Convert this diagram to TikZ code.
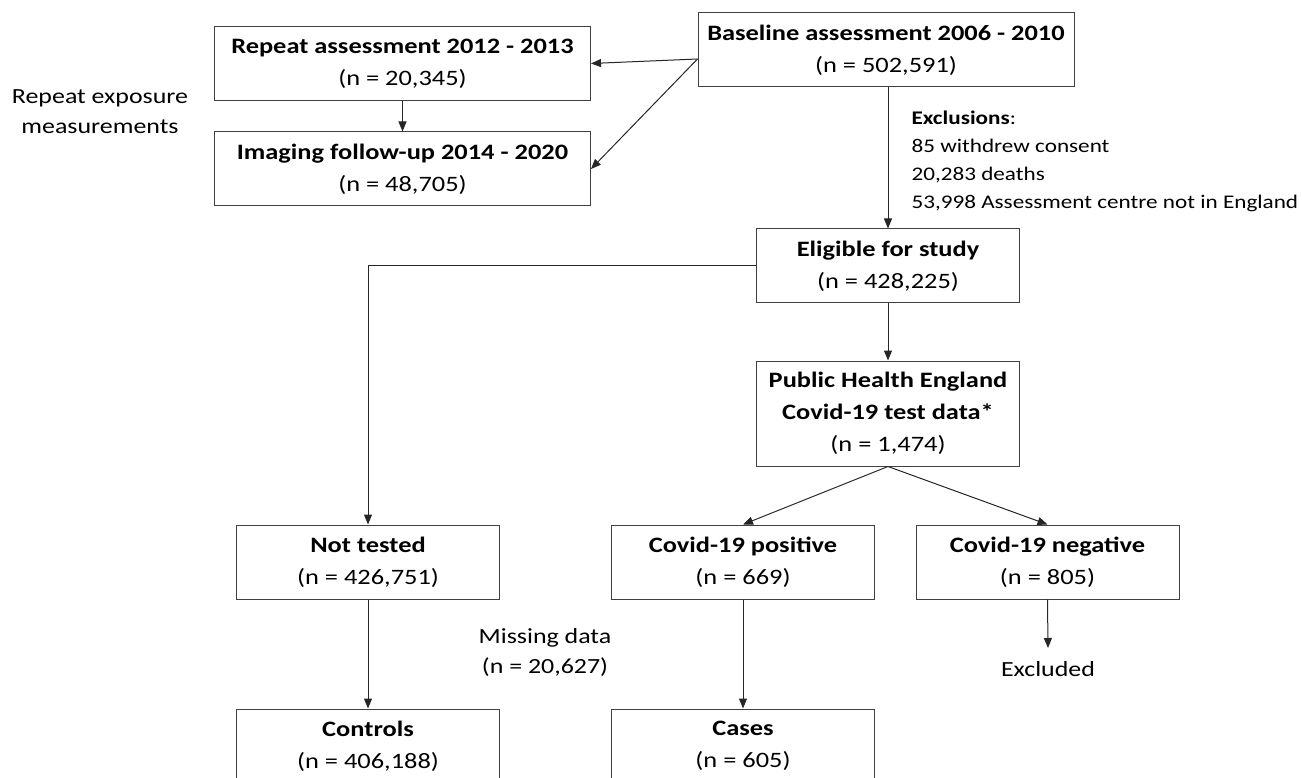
\documentclass[tikz,border=0pt]{standalone}
\usepackage{fontspec}
\setmainfont{Carlito}[FakeStretch=1.2]
\usetikzlibrary{arrows.meta,positioning}

\begin{document}
\begin{tikzpicture}[x=1pt,y=-1pt]

\tikzstyle{box}=[rectangle, draw=black!75, line width=1pt, align=center, inner sep=0pt, font=\fontsize{22}{32}\selectfont]
\tikzstyle{wide}=[box, minimum width=376pt, minimum height=74pt]
\tikzstyle{small}=[box, minimum width=263pt, minimum height=74pt]
\tikzstyle{note}=[align=center, font=\fontsize{21.6}{30}\selectfont]
\tikzstyle{arrow}=[-{Triangle[length=10pt,width=8pt]}, line width=1pt, black!85]

\useasboundingbox (0,0) rectangle (1302,778);

\node (base) [wide] at (886,50) {\textbf{Baseline assessment 2006 - 2010}\\(n = 502,591)};
\node (rep) [wide] at (402.5,63.5) {\textbf{Repeat assessment 2012 - 2013}\\(n = 20,345)};
\node (img) [wide] at (402.5,169) {\textbf{Imaging follow-up 2014 - 2020}\\(n = 48,705)};
\node (expo) [note] at (100,112) {Repeat exposure\\measurements};

\node (elig) [small] at (888,266) {\textbf{Eligible for study}\\(n = 428,225)};
\node (excl) [note, align=left, anchor=north west, font=\fontsize{19.3}{28}\selectfont] at (908,107)
  {\textbf{Exclusions}:\\85 withdrew consent\\20,283 deaths\\53,998 Assessment centre not in England};

\node (phe) [small, minimum height=105pt] at (888,413.5) {\textbf{Public Health England}\\\textbf{Covid-19 test data*}\\(n = 1,474)};

\node (notest) [small] at (368,562) {\textbf{Not tested}\\(n = 426,751)};
\node (pos) [small] at (743,562) {\textbf{Covid-19 positive}\\(n = 669)};
\node (neg) [small] at (1047.5,562) {\textbf{Covid-19 negative}\\(n = 805)};

\node (miss) [note] at (545,652) {Missing data\\(n = 20,627)};
\node (exclu) [note, anchor=north] at (1048,658) {Excluded};

\node (ctrl) [small] at (368,746) {\textbf{Controls}\\(n = 406,188)};
\node (cases) [small] at (743,746) {\textbf{Cases}\\(n = 605)};

\coordinate (bs) at ([yshift=-9pt]base.west);
\draw[arrow] (bs) -- (rep.east);
\draw[arrow] (bs) -- (img.east);
\draw[arrow] (rep) -- (img);
\draw[arrow] (base.south -| elig.north) -- (elig.north);
\draw[arrow] (elig.west) -| (notest.north);
\draw[arrow] (elig) -- (phe);
\draw[arrow] (phe.south) -- (pos.north);
\draw[arrow] (phe.south) -- (neg.north);
\draw[arrow] (notest) -- (ctrl);
\draw[arrow] (pos) -- (cases);
\draw[arrow] (neg.south) -- ([yshift=10pt]exclu.north);
\end{tikzpicture}
\end{document}
